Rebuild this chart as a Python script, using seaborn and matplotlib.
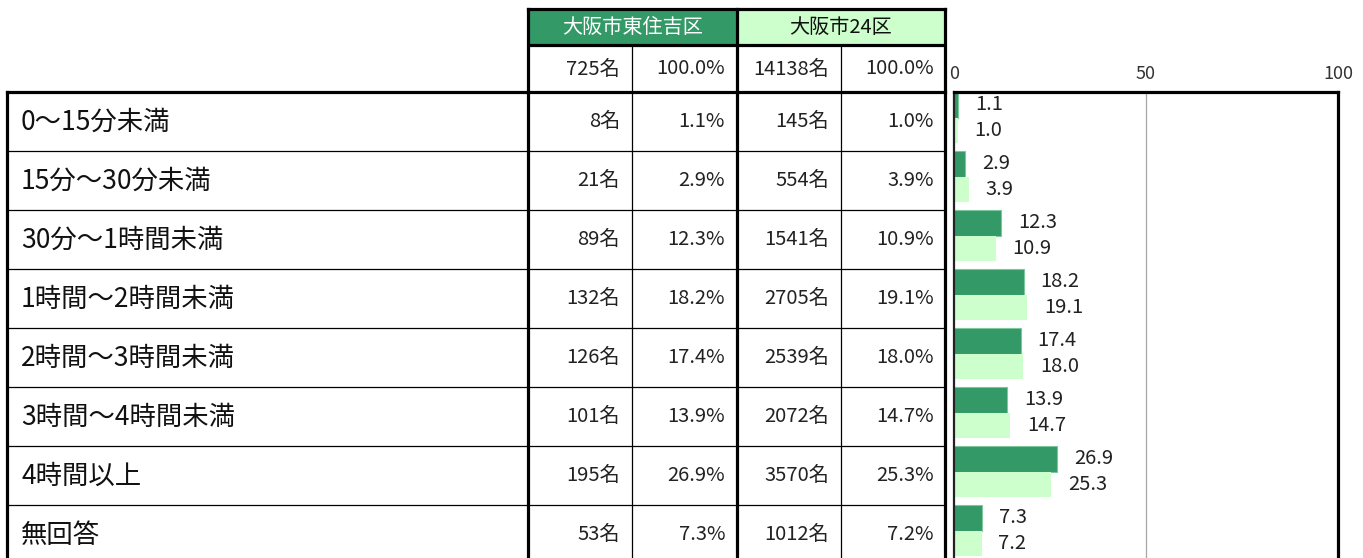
import matplotlib
matplotlib.use("Agg")
import matplotlib.pyplot as plt
import seaborn as sns
import pandas as pd

# ---- data ----
categories = ["0～15分未満", "15分～30分未満", "30分～1時間未満", "1時間～2時間未満",
              "2時間～3時間未満", "3時間～4時間未満", "4時間以上", "無回答"]
series_names = ["大阪市東住吉区", "大阪市24区"]
total_n = [725, 14138]
total_pct = [100.0, 100.0]
higashi_n = [8, 21, 89, 132, 126, 101, 195, 53]
higashi_pct = [1.1, 2.9, 12.3, 18.2, 17.4, 13.9, 26.9, 7.3]
city_n = [145, 554, 1541, 2705, 2539, 2072, 3570, 1012]
city_pct = [1.0, 3.9, 10.9, 19.1, 18.0, 14.7, 25.3, 7.2]
x_ticks = [0, 50, 100]

DARK = "#339966"
LIGHT = "#CCFFCC"

sns.set_theme(style="white")
plt.rcParams["font.family"] = ["Noto Sans CJK JP", "DejaVu Sans"]

W, H = 1363, 558
fig = plt.figure(figsize=(W / 100, H / 100), dpi=100)
fig.patch.set_facecolor("white")

# ---- table drawn on a pixel-space canvas ----
tab = fig.add_axes([0, 0, 1, 1])
tab.set_xlim(0, W)
tab.set_ylim(H, 0)
tab.axis("off")

row_top = 92
row_h = 59
n_rows = len(categories)
bottom = row_top + row_h * n_rows
thick, thin = 2.3, 0.9

# header fills
tab.fill_between([528, 737], 9, 45, color=DARK, lw=0)
tab.fill_between([737, 945], 9, 45, color=LIGHT, lw=0)

# column lines
for x in (528, 737, 945):
    tab.plot([x, x], [9, bottom], color="black", lw=thick, solid_capstyle="projecting")
for x in (632, 841):
    tab.plot([x, x], [45, bottom], color="black", lw=thin)
tab.plot([7, 7], [row_top, bottom], color="black", lw=thick, solid_capstyle="projecting")

# header rules
tab.plot([528, 945], [9, 9], color="black", lw=thick, solid_capstyle="projecting")
tab.plot([528, 945], [45, 45], color="black", lw=thick)
tab.plot([7, 945], [row_top, row_top], color="black", lw=thick, solid_capstyle="projecting")
for i in range(1, n_rows):
    y = row_top + row_h * i
    tab.plot([7, 945], [y, y], color="black", lw=thin)

# header text
tab.text(632.5, 27.5, series_names[0], ha="center", va="center", fontsize=14.5, color="white")
tab.text(841, 27.5, series_names[1], ha="center", va="center", fontsize=14.5, color="#111111")

num_kw = dict(ha="right", va="center", fontsize=14.5, color="#222222")
col_right = [620, 725, 829, 934]
tab.text(col_right[0], 69, f"{total_n[0]}名", **num_kw)
tab.text(col_right[1], 69, f"{total_pct[0]:.1f}%", **num_kw)
tab.text(col_right[2], 69, f"{total_n[1]}名", **num_kw)
tab.text(col_right[3], 69, f"{total_pct[1]:.1f}%", **num_kw)

for i, cat in enumerate(categories):
    yc = row_top + row_h * i + row_h / 2
    tab.text(21, yc + 1, cat, ha="left", va="center", fontsize=19, color="#111111")
    tab.text(col_right[0], yc, f"{higashi_n[i]}名", **num_kw)
    tab.text(col_right[1], yc, f"{higashi_pct[i]:.1f}%", **num_kw)
    tab.text(col_right[2], yc, f"{city_n[i]}名", **num_kw)
    tab.text(col_right[3], yc, f"{city_pct[i]:.1f}%", **num_kw)

# ---- bar chart ----
ax_left, ax_right = 954, 1338
ax_top = 91.5
ax_bottom = ax_top + row_h * n_rows
ax = fig.add_axes([ax_left / W, (H - ax_bottom) / H,
                   (ax_right - ax_left) / W, (ax_bottom - ax_top) / H])

df = pd.DataFrame({
    "category": categories * 2,
    "series": [series_names[0]] * n_rows + [series_names[1]] * n_rows,
    "value": higashi_pct + city_pct,
})
sns.barplot(data=df, y="category", x="value", hue="series", order=categories,
            hue_order=series_names, palette=[DARK, LIGHT], orient="h",
            width=0.85, legend=False, ax=ax, linewidth=0, saturation=1)

for patch in ax.containers[0]:
    patch.set_edgecolor("#7cc79c")
    patch.set_linewidth(0.8)

for cont, vals in zip(ax.containers, [higashi_pct, city_pct]):
    for patch, v in zip(cont, vals):
        ax.annotate(f"{v:.1f}", xy=(v, patch.get_y() + patch.get_height() / 2),
                    xytext=(12, 0), textcoords="offset points",
                    ha="left", va="center", fontsize=14.5, color="#222222")

# bars sit slightly high within each row band
shift = 3.5 / row_h
ax.set_ylim(n_rows - 0.5 + shift, -0.5 + shift)
ax.set_xlim(0, 100)
ax.set_xticks(x_ticks)
ax.set_xticklabels([str(t) for t in x_ticks])
ax.xaxis.tick_top()
ax.tick_params(axis="x", length=0, pad=6, labelsize=13, labelcolor="#333333")
ax.tick_params(axis="y", length=0)
ax.set_yticks([])
ax.set_xlabel("")
ax.set_ylabel("")
ax.axvline(50, color="#a6a6a6", lw=0.9, zorder=0)
ax.set_facecolor("white")
for side in ("top", "right"):
    ax.spines[side].set_color("black")
    ax.spines[side].set_linewidth(2.3)
ax.spines["left"].set_color("#222222")
ax.spines["left"].set_linewidth(1.6)
ax.spines["bottom"].set_visible(False)

fig.savefig("out.png", dpi=100)
